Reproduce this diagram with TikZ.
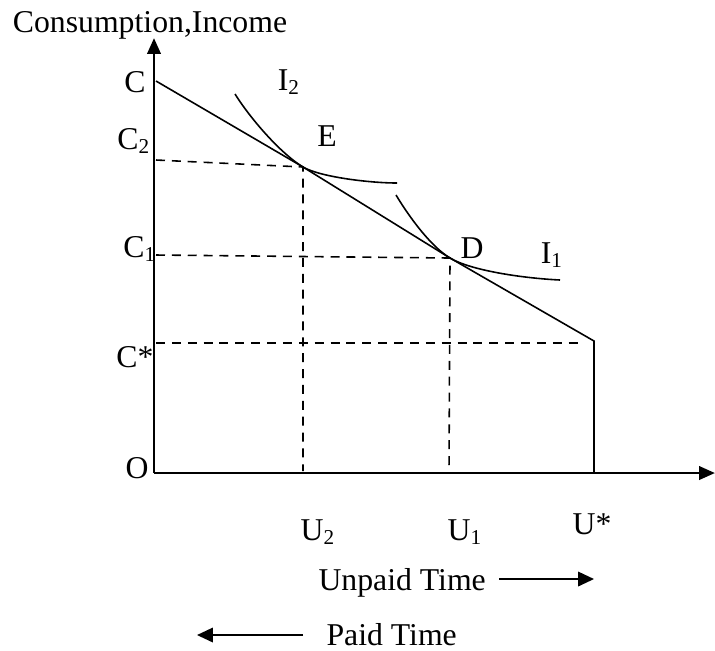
\documentclass[tikz,border=0pt]{standalone}
\usepackage{fontspec}
\setmainfont{Liberation Serif}
\usepackage{tikz}
\usetikzlibrary{arrows.meta}

\tikzset{
  eje/.style={line width=1.1pt,-{Triangle[length=6pt,width=5pt]}},
  guia/.style={dashed,line width=0.6pt,dash pattern=on 3.4pt off 2.6pt},
  curva/.style={line width=0.6pt},
  etiq/.style={font=\fontsize{12}{14}\selectfont,inner sep=0pt}
}

\begin{document}
\begin{tikzpicture}[x=0.378pt,y=-0.378pt,>=Latex]
  \useasboundingbox (0,0) rectangle (715,650);

  % puntos
  \coordinate (O) at (154,473);
  \coordinate (Ytop) at (154,38);
  \coordinate (Xend) at (715,473);
  \coordinate (C) at (156,81);
  \coordinate (E) at (303,167);
  \coordinate (D) at (450,258);
  \coordinate (K) at (594,341);
  \coordinate (Kb) at (594,473);
  \coordinate (C2) at (156,160);
  \coordinate (C1) at (156,255);
  \coordinate (Cs) at (156,343);
  \coordinate (Cse) at (582,343);
  \coordinate (U2) at (303,471);
  \coordinate (U1) at (449,471);

  \draw[eje] (O) -- (Ytop);
  \draw[eje] (O) -- (Xend);

  % restriccion
  \draw[curva] (C) -- (E) -- (D) -- (K) -- (Kb);

  % indiferencia
  \draw[curva] (235,94) .. controls (250,118) and (280,153) .. (E)
               .. controls (320,177) and (370,183) .. (397,183);
  \draw[curva] (396,195) .. controls (408,215) and (430,246) .. (D)
               .. controls (470,270) and (520,278) .. (560,280);

  \draw[guia] (C2) -- (E) -- (U2);
  \draw[guia] (C1) -- (D) -- (U1);
  \draw[guia] (Cs) -- (Cse);

  \node[etiq] (tY) at (150,25) {Consumption,Income};
  \node[etiq] (tC) at (135,82) {C};
  \node[etiq] (tC2) at (134,141) {C\textsubscript{2}};
  \node[etiq] (tC1) at (140,249) {C\textsubscript{1}};
  \node[etiq] (tCs) at (135,357) {C*};
  \node[etiq] (tO) at (137,468) {O};
  \node[etiq] (tI2) at (289,82) {I\textsubscript{2}};
  \node[etiq] (tE) at (327,136) {E};
  \node[etiq] (tD) at (472,248) {D};
  \node[etiq] (tI1) at (552,255) {I\textsubscript{1}};
  \node[etiq] (tU2) at (318,532) {U\textsubscript{2}};
  \node[etiq] (tU1) at (465,532) {U\textsubscript{1}};
  \node[etiq] (tUs) at (592,524) {U*};

  \node[etiq,anchor=base west] (unpaid) at (318,590) {Unpaid Time};
  \node[etiq,anchor=base west] (paid) at (326,645) {Paid Time};
  \coordinate (ua) at (499,579);
  \coordinate (ub) at (594,579);
  \coordinate (pa) at (303,635);
  \coordinate (pb) at (197,635);
  \draw[curva,-{Triangle[length=6pt,width=5.5pt]}] (ua) -- (ub);
  \draw[curva,-{Triangle[length=6pt,width=5.5pt]}] (pa) -- (pb);
\end{tikzpicture}
\end{document}
